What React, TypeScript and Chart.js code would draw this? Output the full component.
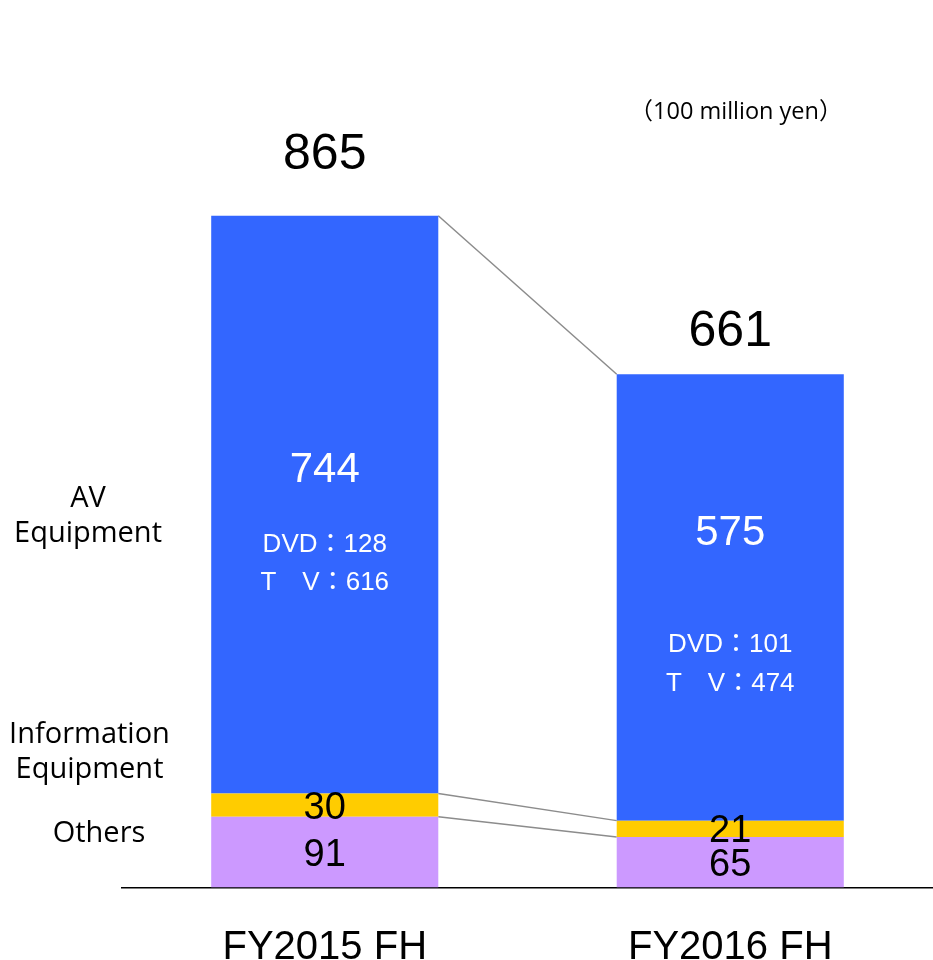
import React, { useEffect, useRef } from "react";
import { Chart, registerables } from "chart.js";

Chart.register(...registerables);

// ---- data ----
const categories = ["FY2015 FH", "FY2016 FH"];
const seriesNames = ["Others", "Information Equipment", "AV Equipment"];
const othersValues = [91, 65];
const infoValues = [30, 21];
const avValues = [744, 575];
const totalValues = [865, 661];
const dvdValues = [128, 101];
const tvValues = [616, 474];
const unitLabel = "（100 million yen）";
const seriesColors = ["#CC99FF", "#FFCC00", "#3366FF"];

const ARIAL = "'Liberation Sans', Arial, 'Noto Sans CJK JP', sans-serif";
const CALIBRI = "'Open Sans', 'Noto Sans', 'Noto Sans CJK JP', sans-serif";

// text layout (annotation offsets, in px)
const totalOffsets = [-47, -28]; // baseline offset above bar top
const avNumOffsets = [-38, -67.5];
const dvdOffsets = [38.5, 45.5];
const tvOffsets = [76.5, 84];

const annotationPlugin = {
  id: "annotations",
  beforeDatasetsDraw(chart: any) {
    const ctx = chart.ctx;
    ctx.save();
    ctx.strokeStyle = "#8c8c8c";
    ctx.lineWidth = 1.5;
    for (let d = 0; d < chart.data.datasets.length; d++) {
      const meta = chart.getDatasetMeta(d);
      const a = meta.data[0].getProps(["x", "y", "width"], true);
      const b = meta.data[1].getProps(["x", "y", "width"], true);
      ctx.beginPath();
      ctx.moveTo(a.x + a.width / 2, a.y);
      ctx.lineTo(b.x - b.width / 2, b.y);
      ctx.stroke();
    }
    ctx.restore();
  },
  afterDatasetsDraw(chart: any) {
    const ctx = chart.ctx;
    ctx.save();
    ctx.textAlign = "center";
    ctx.textBaseline = "alphabetic";

    const center = (el: any) => {
      const p = el.getProps(["x", "y", "base"], true);
      return { x: p.x, mid: (p.y + p.base) / 2, top: p.y };
    };

    for (let i = 0; i < categories.length; i++) {
      const o = center(chart.getDatasetMeta(0).data[i]);
      const inf = center(chart.getDatasetMeta(1).data[i]);
      const av = center(chart.getDatasetMeta(2).data[i]);

      // small segment values
      ctx.fillStyle = "#000";
      ctx.font = `38px ${ARIAL}`;
      ctx.fillText(String(othersValues[i]), o.x, o.mid + 38 * 0.358);
      ctx.fillText(String(infoValues[i]), inf.x, inf.mid + 38 * 0.358);

      // totals
      ctx.font = `50px ${ARIAL}`;
      ctx.fillText(String(totalValues[i]), av.x, av.top + totalOffsets[i]);

      // AV values
      ctx.fillStyle = "#fff";
      ctx.font = `42px ${ARIAL}`;
      ctx.fillText(String(avValues[i]), av.x, av.mid + avNumOffsets[i] + 42 * 0.358);
      ctx.font = `26px ${ARIAL}`;
      ctx.fillText(`DVD：${dvdValues[i]}`, av.x, av.mid + dvdOffsets[i] + 26 * 0.358);
      ctx.fillText(`T　V：${tvValues[i]}`, av.x, av.mid + tvOffsets[i] + 26 * 0.358);
    }

    // series labels on the left
    ctx.fillStyle = "#000";
    ctx.font = `29px ${CALIBRI}`;
    ctx.fillText("AV", 88, 507);
    ctx.fillText("Equipment", 88, 542);
    ctx.fillText("Information", 89.5, 743);
    ctx.fillText("Equipment", 89.5, 778);
    ctx.fillText(seriesNames[0], 99, 842);

    // unit label
    ctx.font = `23.5px ${CALIBRI}`;
    ctx.fillText(unitLabel, 736, 119);
    ctx.restore();
  },
};

export default function App() {
  const canvasRef = useRef<HTMLCanvasElement | null>(null);

  useEffect(() => {
    const canvas = canvasRef.current;
    if (!canvas) return;
    const chart = new Chart(canvas, {
      type: "bar",
      data: {
        labels: categories,
        datasets: [
          { label: seriesNames[0], data: othersValues, backgroundColor: seriesColors[0] },
          { label: seriesNames[1], data: infoValues, backgroundColor: seriesColors[1] },
          { label: seriesNames[2], data: avValues, backgroundColor: seriesColors[2] },
        ],
      },
      options: {
        responsive: false,
        animation: false,
        events: [],
        layout: { padding: { left: 122, right: 0, top: 111, bottom: -48.6 } },
        datasets: {
          bar: { categoryPercentage: 1, barPercentage: 0.56, borderWidth: 0 },
        },
        plugins: {
          legend: { display: false },
          tooltip: { enabled: false },
          title: { display: false },
        },
        scales: {
          x: {
            stacked: true,
            grid: { display: false, drawTicks: false },
            border: { display: true, color: "#000", width: 1.5 },
            ticks: {
              color: "#000",
              padding: 48.6,
              font: { family: ARIAL, size: 40, lineHeight: 0.6 },
            },
          },
          y: {
            stacked: true,
            display: false,
            min: 0,
            max: 1000,
          },
        },
      },
      plugins: [annotationPlugin],
    });
    return () => chart.destroy();
  }, []);

  return (
    <div style={{ position: "absolute", left: 0, top: 0, width: 933, height: 960, background: "#fff" }}>
      <canvas ref={canvasRef} width={933} height={960} style={{ display: "block" }} />
    </div>
  );
}
